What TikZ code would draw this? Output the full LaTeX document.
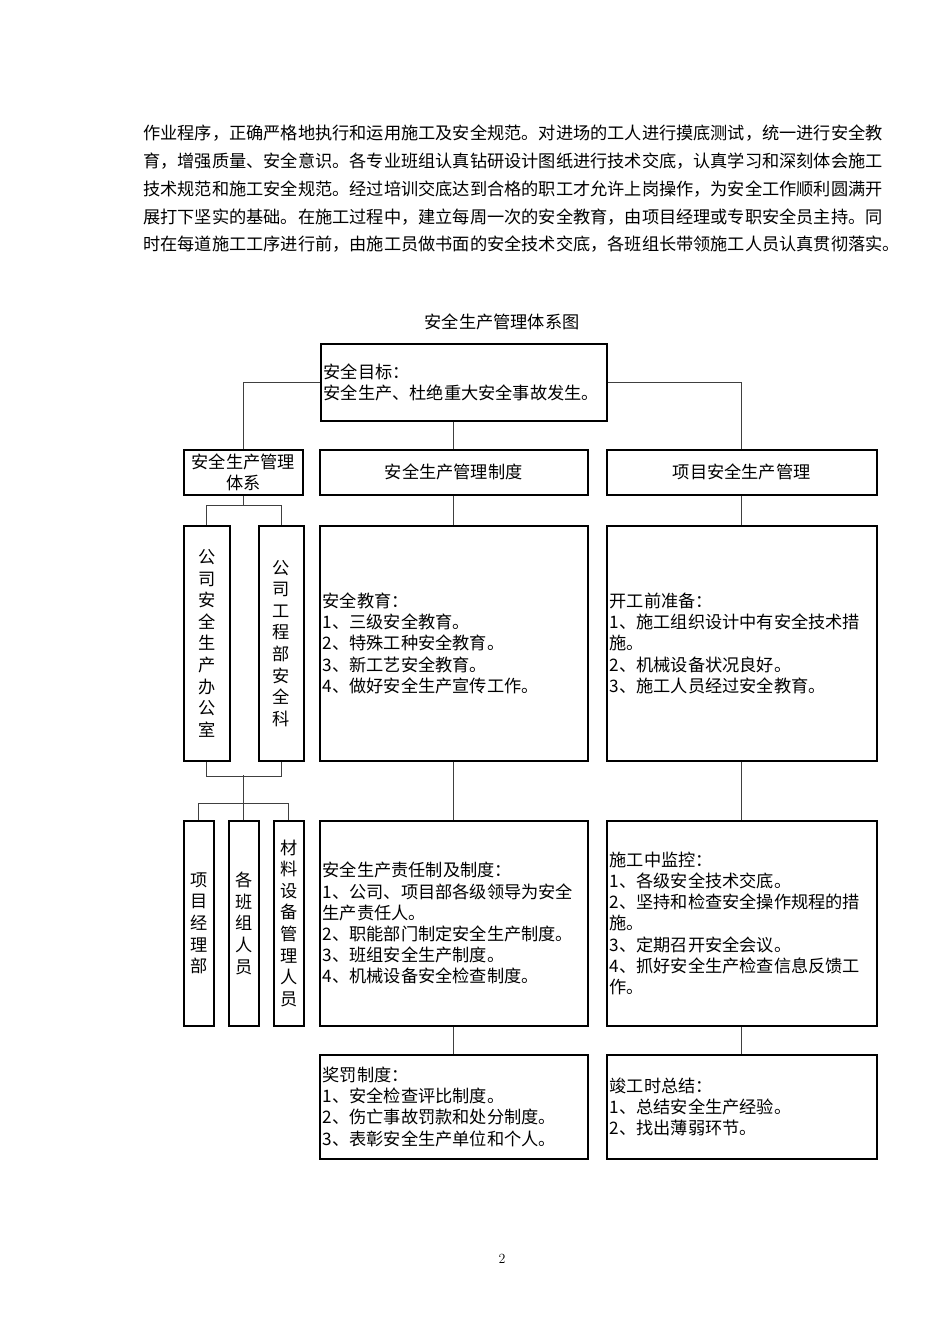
\documentclass[tikz,border=0pt]{standalone}
\usepackage{fontspec}
\newfontfamily\cjk{Noto Sans CJK SC}
\usetikzlibrary{positioning}

\begin{document}
\begin{tikzpicture}[x=1pt,y=-1pt,
  every node/.style={font=\cjk\fontsize{17.2}{21.2}\selectfont},
  box/.style={draw,line width=1.5pt,anchor=north west,inner xsep=3pt,inner ysep=0pt,align=left},
  vbox/.style={draw,line width=1.5pt,anchor=north west,inner sep=0pt,align=center,font=\cjk\fontsize{17.2}{21.6}\selectfont},
  link/.style={draw=black!75,line width=1pt},
  para/.style={anchor=west,inner sep=0pt,
    execute at begin node={\XeTeXlinebreaklocale "zh"\XeTeXlinebreakskip=0pt plus 1pt}}]
  \useasboundingbox (0,0) rectangle (950,1344);

  \node[para] (p1) at (143,133.5) {\hbox to 737pt{作业程序，正确严格地执行和运用施工及安全规范。对进场的工人进行摸底测试，统一进行安全教}};
  \node[para] (p2) at (143,161.2) {\hbox to 737pt{育，增强质量、安全意识。各专业班组认真钻研设计图纸进行技术交底，认真学习和深刻体会施工}};
  \node[para] (p3) at (143,188.9) {\hbox to 737pt{技术规范和施工安全规范。经过培训交底达到合格的职工才允许上岗操作，为安全工作顺利圆满开}};
  \node[para] (p4) at (143,216.6) {\hbox to 737pt{展打下坚实的基础。在施工过程中，建立每周一次的安全教育，由项目经理或专职安全员主持。同}};
  \node[para] (p5) at (143,244.3) {\hbox to 737pt{时在每道施工工序进行前，由施工员做书面的安全技术交底，各班组长带领施工人员认真贯彻落实。}};

  \node (title) at (502,322) {安全生产管理体系图};

  \node[box,text width=280pt,minimum height=77pt] (goal) at (320,343) {安全目标：\\安全生产、杜绝重大安全事故发生。};

  \node[box,align=center,text width=113pt,minimum height=45pt] (sys) at (183,449) {安全生产管理\\体系};
  \node[box,align=center,text width=262pt,minimum height=45pt] (rules) at (319,449) {安全生产管理制度};
  \node[box,align=center,text width=264pt,minimum height=45pt] (proj) at (606,449) {项目安全生产管理};

  \node[vbox,minimum width=46pt,minimum height=235pt] (office) at (183,525) {公\\司\\安\\全\\生\\产\\办\\公\\室};
  \node[vbox,minimum width=45pt,minimum height=235pt] (dept) at (258,525) {公\\司\\工\\程\\部\\安\\全\\科};
  \node[vbox,minimum width=30pt,minimum height=205pt] (pm) at (183,820) {项\\目\\经\\理\\部};
  \node[vbox,minimum width=30pt,minimum height=205pt] (team) at (228,820) {各\\班\\组\\人\\员};
  \node[vbox,minimum width=30pt,minimum height=205pt] (mat) at (273,820) {材\\料\\设\\备\\管\\理\\人\\员};

  \node[box,text width=262pt,minimum height=235pt] (edu) at (319,525) {安全教育：\\1、三级安全教育。\\2、特殊工种安全教育。\\3、新工艺安全教育。\\4、做好安全生产宣传工作。};
  \node[box,text width=262pt,minimum height=205pt] (duty) at (319,820) {安全生产责任制及制度：\\1、公司、项目部各级领导为安全\\生产责任人。\\2、职能部门制定安全生产制度。\\3、班组安全生产制度。\\4、机械设备安全检查制度。};
  \node[box,text width=262pt,minimum height=104pt] (award) at (319,1054) {奖罚制度：\\1、安全检查评比制度。\\2、伤亡事故罚款和处分制度。\\3、表彰安全生产单位和个人。};

  \node[box,text width=264pt,minimum height=235pt] (prep) at (606,525) {开工前准备：\\1、施工组织设计中有安全技术措\\施。\\2、机械设备状况良好。\\3、施工人员经过安全教育。};
  \node[box,text width=264pt,minimum height=205pt] (watch) at (606,820) {施工中监控：\\1、各级安全技术交底。\\2、坚持和检查安全操作规程的措\\施。\\3、定期召开安全会议。\\4、抓好安全生产检查信息反馈工\\作。};
  \node[box,text width=264pt,minimum height=104pt] (sum) at (606,1054) {竣工时总结：\\1、总结安全生产经验。\\2、找出薄弱环节。};

  \node[font=\normalfont\fontsize{14}{16}\selectfont] (page) at (502,1259) {2};

  \path[link] (goal.west) -| (sys.north)
              (goal.east) -| (proj.north)
              (rules.north) -- (rules.north |- goal.south)
              (sys.south) -- ++(0,10) -| (office.north)
              (sys.south) ++(0,10) -| (dept.north)
              (office.south) -- ++(0,15) -| (dept.south)
              (team.north) -- ++(0,-45)
              (pm.north) -- ++(0,-17) -| (mat.north)
              (rules.south) -- (edu.north)
              (edu.south) -- (duty.north)
              (duty.south) -- (award.north)
              (proj.south) -- (prep.north)
              (prep.south) -- (watch.north)
              (watch.south) -- (sum.north);
\end{tikzpicture}
\end{document}
